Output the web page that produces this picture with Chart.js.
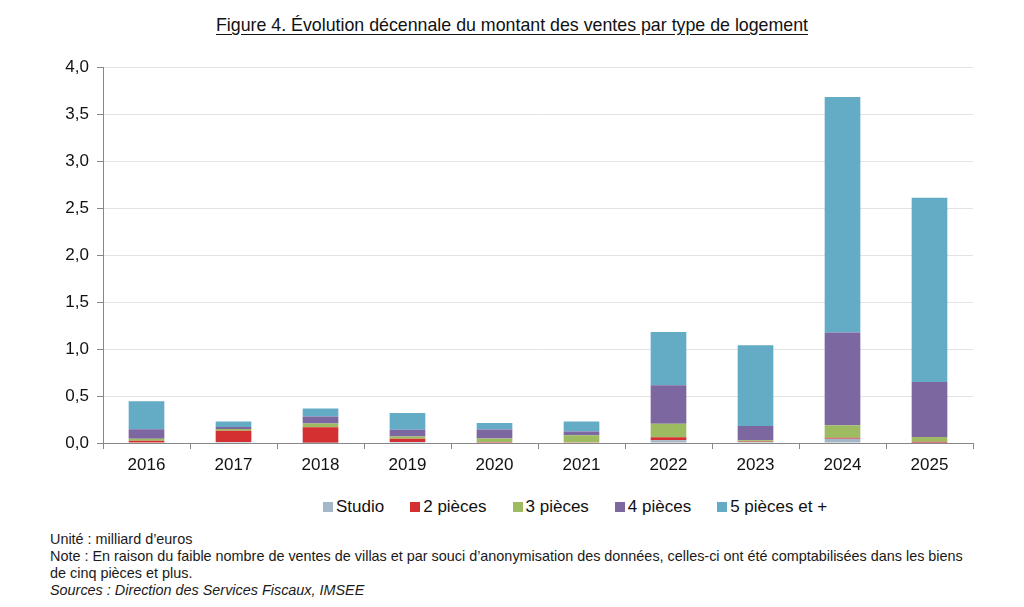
<!DOCTYPE html>
<html lang="fr">
<head>
<meta charset="utf-8">
<script src="https://cdn.jsdelivr.net/npm/chart.js@4"></script>
<style>
  body { margin: 0; background: #fff; font-family: "Liberation Sans", Arial, Helvetica, sans-serif; color: #111; }
  #page { position: relative; width: 1024px; height: 607px; overflow: hidden; }
  #titre { position: absolute; top: 15px; left: 0; width: 1024px; text-align: center; font-size: 17.8px; text-decoration: underline; text-underline-offset: 3px; }
  #graph { position: absolute; top: 0; left: 0; width: 1024px; height: 483px; }
  #legende { position: absolute; top: 497px; left: 323px; font-size: 17px; white-space: nowrap; line-height: 20px; }
  #legende span.item { display: inline-block; margin-right: 26px; }
  #legende span.case { display: inline-block; width: 10px; height: 10px; margin-right: 3px; vertical-align: 0px; }
  #notes { position: absolute; left: 50px; top: 531px; font-size: 14.4px; line-height: 17px; color: #1a1a1a; }
</style>
</head>
<body>
<div id="page">
  <div id="titre">Figure 4. Évolution décennale du montant des ventes par type de logement</div>
  <div id="graph"><canvas id="barres"></canvas></div>
  <div id="legende"></div>
  <div id="notes">
    Unité : milliard d’euros<br>
    Note : En raison du faible nombre de ventes de villas et par souci d’anonymisation des données, celles-ci ont été comptabilisées dans les biens<br>
    de cinq pièces et plus.<br>
    <i>Sources : Direction des Services Fiscaux, IMSEE</i>
  </div>
</div>
<script>
// annees et valeurs (milliards d'euros)
const annees = ["2016", "2017", "2018", "2019", "2020", "2021", "2022", "2023", "2024", "2025"];
const studio = [0.005, 0.01, 0.003, 0.01, 0.005, 0.005, 0.03, 0.01, 0.045, 0.003];
const deuxPieces = [0.02, 0.12, 0.165, 0.035, 0.005, 0.003, 0.03, 0.005, 0.01, 0.01];
const troisPieces = [0.02, 0.02, 0.04, 0.025, 0.038, 0.075, 0.145, 0.015, 0.135, 0.05];
const quatrePieces = [0.10, 0.02, 0.075, 0.07, 0.095, 0.04, 0.41, 0.15, 0.985, 0.587];
const cinqPiecesEtPlus = [0.30, 0.06, 0.085, 0.18, 0.07, 0.105, 0.565, 0.86, 2.505, 1.96];
const yTicks = [0, 0.5, 1, 1.5, 2, 2.5, 3, 3.5, 4];

const police = "'Liberation Sans', Arial, Helvetica, sans-serif";

function serie(label, data, couleur) {
  return { label: label, data: data, backgroundColor: couleur, borderWidth: 0, barPercentage: 0.41, categoryPercentage: 1 };
}

let graphique = new Chart(document.getElementById("barres"), {
  type: "bar",
  data: {
    labels: annees,
    datasets: [
      serie("Studio", studio, "#a3b7c9"),
      serie("2 pièces", deuxPieces, "#d53031"),
      serie("3 pièces", troisPieces, "#9dbb61"),
      serie("4 pièces", quatrePieces, "#7c67a0"),
      serie("5 pièces et +", cinqPiecesEtPlus, "#64abc6"),
    ],
  },
  options: {
    responsive: true,
    maintainAspectRatio: false,
    animation: false,
    layout: { padding: { top: 67, right: 51, left: 0, bottom: 0 } },
    plugins: {
      legend: { display: false },
      tooltip: { enabled: false },
    },
    scales: {
      x: {
        stacked: true,
        grid: { display: true, drawOnChartArea: false, tickLength: 6, color: "#888" },
        border: { color: "#888" },
        ticks: { color: "#111", padding: 6, font: { family: police, size: 17 } },
        afterFit: (scale) => { scale.height = 40; },
      },
      y: {
        stacked: true,
        min: 0,
        max: 4,
        afterBuildTicks: (scale) => { scale.ticks = yTicks.map((v) => ({ value: v })); },
        grid: { color: "#e3e3e3", tickLength: 6, tickColor: "#888" },
        border: { color: "#888" },
        ticks: {
          color: "#111",
          padding: 8,
          font: { family: police, size: 17 },
          callback: (v) => v.toFixed(1).replace(".", ","),
        },
        afterFit: (scale) => { scale.width = 103; },
      },
    },
  },
});

// legende en HTML (petit ecart entre la case et le texte)
let legende = document.getElementById("legende");
graphique.data.datasets.forEach((ds) => {
  legende.innerHTML += `<span class="item"><span class="case" style="background:${ds.backgroundColor}"></span>${ds.label}</span>`;
});
</script>
</body>
</html>
